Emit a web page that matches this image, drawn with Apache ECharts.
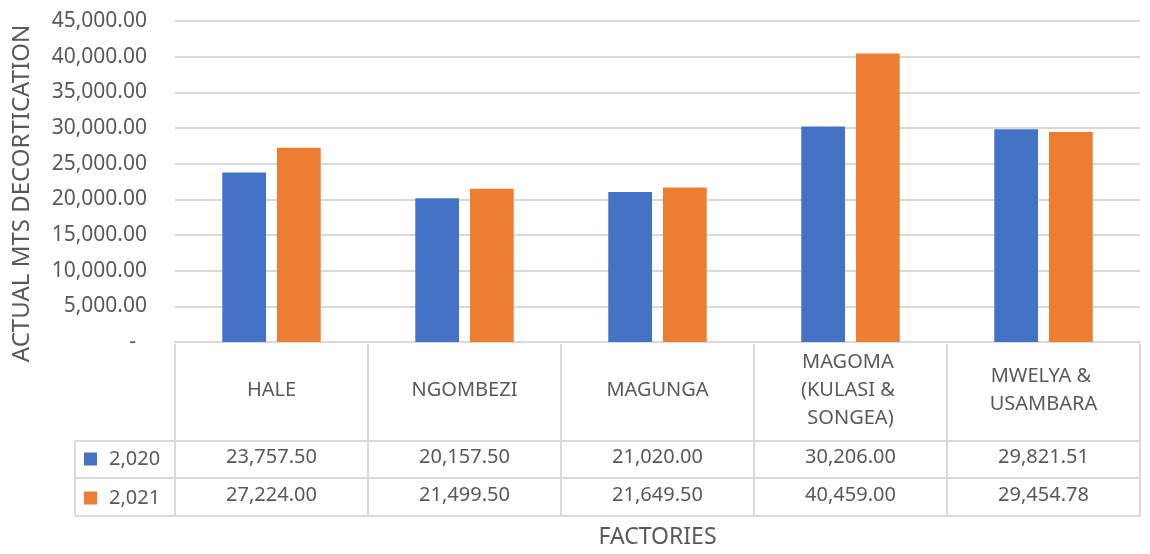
<!DOCTYPE html>
<html>
<head>
<meta charset="utf-8">
<script src="https://cdn.jsdelivr.net/npm/echarts@6/dist/echarts.min.js"></script>
<style>
  html, body { margin: 0; padding: 0; background: #fff; }
  #chart { width: 1150px; height: 554px; }
</style>
</head>
<body>
<div id="chart"></div>
<script>
const factories = ['HALE', 'NGOMBEZI', 'MAGUNGA', 'MAGOMA (KULASI & SONGEA)', 'MWELYA & USAMBARA'];
const yearNames = ['2,020', '2,021'];
const values2020 = [23757.50, 20157.50, 21020.00, 30206.00, 29821.51];
const values2021 = [27224.00, 21499.50, 21649.50, 40459.00, 29454.78];
const yTicks = [0, 5000, 10000, 15000, 20000, 25000, 30000, 35000, 40000, 45000];

const textColor = '#595959';
const lineColor = '#d9d9d9';
const font = 'Noto Sans';
const fontSize = 20;

// plot area
const gLeft = 175, gRight = 10, gTop = 21, gBottom = 210;
const W = 1150, H = 554;
const axisY = H - gBottom;          // 344
const rowLines = [441, 478, 516];   // table row borders
const tableLeft = 75;

const fmt = v => v.toLocaleString('en-US', { minimumFractionDigits: 2, maximumFractionDigits: 2 });

const chart = echarts.init(document.getElementById('chart'));

// table borders
const catW = (W - gLeft - gRight) / factories.length;
const lines = [];
const addLine = (x1, y1, x2, y2) => lines.push({
  type: 'line', silent: true, z: 10,
  shape: { x1, y1, x2, y2 },
  style: { stroke: lineColor, lineWidth: 2 }
});
for (let i = 0; i <= factories.length; i++) {
  const x = Math.round(gLeft + i * catW);
  addLine(x, axisY, x, rowLines[2]);
}
rowLines.forEach(y => addLine(tableLeft, y, W - gRight, y));
addLine(tableLeft, rowLines[0], tableLeft, rowLines[2]);

const valueAxis = (vals, margin) => ({
  type: 'category',
  data: factories,
  position: 'bottom',
  axisLine: { show: false },
  axisTick: { show: false },
  axisLabel: {
    interval: 0,
    margin: margin,
    verticalAlign: 'middle',
    color: textColor,
    fontFamily: font,
    fontSize: fontSize,
    formatter: (v, i) => fmt(vals[i])
  }
});

const option = {
  animation: false,
  color: ['#4472C4', '#ED7D31'],
  textStyle: { fontFamily: font },
  grid: { left: gLeft, right: gRight, top: gTop, bottom: gBottom },
  legend: {
    data: yearNames,
    orient: 'vertical',
    left: 84,
    top: 449,
    padding: 0,
    itemWidth: 13,
    itemHeight: 13,
    itemGap: 19,
    icon: 'rect',
    selectedMode: false,
    textStyle: { color: textColor, fontSize: fontSize, fontFamily: font, padding: [0, 0, 0, 7] }
  },
  xAxis: [
    {
      type: 'category',
      data: factories,
      axisLine: { show: true, lineStyle: { color: lineColor, width: 2 } },
      axisTick: { show: false },
      axisLabel: {
        interval: 0,
        margin: 48,
        verticalAlign: 'middle',
        color: textColor,
        fontFamily: font,
        fontSize: fontSize,
        lineHeight: 28,
        width: 140,
        overflow: 'break',
        align: 'center'
      },
      name: 'FACTORIES',
      nameLocation: 'middle',
      nameGap: 184,
      nameTextStyle: { color: textColor, fontFamily: font, fontSize: 23 }
    },
    valueAxis(values2020, 459 - axisY),
    valueAxis(values2021, 497 - axisY)
  ],
  yAxis: {
    type: 'value',
    min: yTicks[0],
    max: yTicks[yTicks.length - 1],
    interval: yTicks[1] - yTicks[0],
    axisLine: { show: false },
    axisTick: { show: false },
    splitLine: { lineStyle: { color: lineColor, width: 2 } },
    axisLabel: {
      margin: 28,
      color: textColor,
      fontFamily: font,
      fontSize: 21,
      formatter: v => v === 0 ? '-  ' : fmt(v)
    },
    name: 'ACTUAL MTS DECORTICATION',
    nameLocation: 'middle',
    nameGap: 141,
    nameTextStyle: { color: textColor, fontFamily: font, fontSize: 24, padding: [0, 24, 0, 0] }
  },
  series: [
    {
      name: yearNames[0],
      type: 'bar',
      data: values2020,
      barGap: '25%',
      barCategoryGap: '49%'
    },
    {
      name: yearNames[1],
      type: 'bar',
      data: values2021
    }
  ],
  graphic: lines
};

chart.setOption(option);
</script>
</body>
</html>
